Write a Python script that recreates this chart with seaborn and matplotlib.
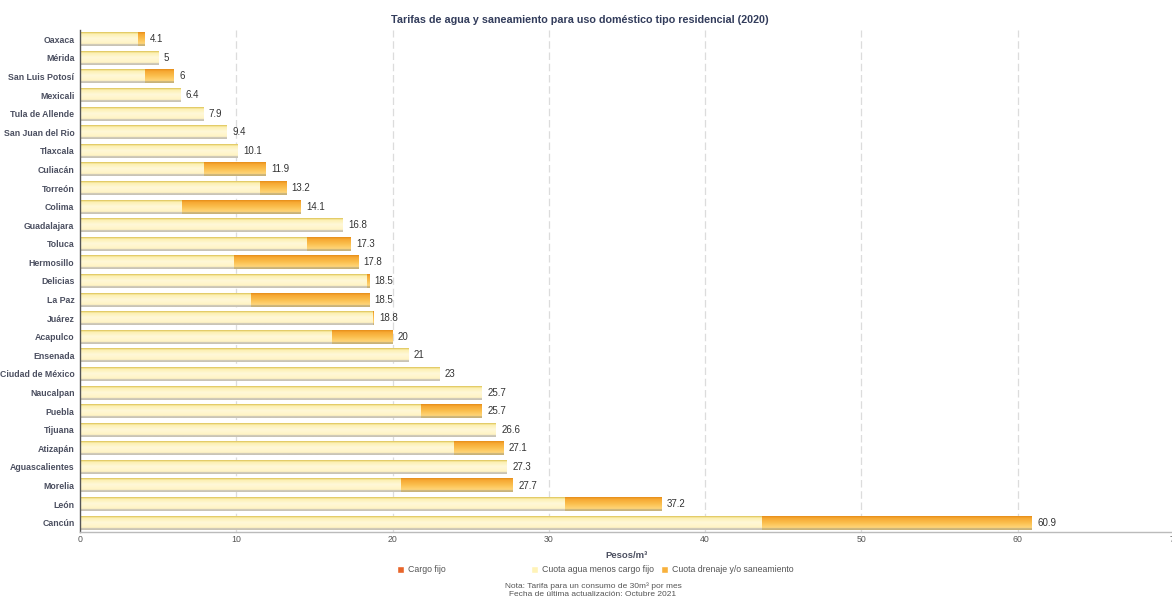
import numpy as np
import pandas as pd
import matplotlib
matplotlib.use("Agg")
import matplotlib.pyplot as plt
from matplotlib.colors import to_rgb
from matplotlib.patches import Patch
import seaborn as sns

ciudades = ["Oaxaca", "Mérida", "San Luis Potosí", "Mexicali", "Tula de Allende",
            "San Juan del Rio", "Tlaxcala", "Culiacán", "Torreón", "Colima",
            "Guadalajara", "Toluca", "Hermosillo", "Delicias", "La Paz", "Juárez",
            "Acapulco", "Ensenada", "Ciudad de México", "Naucalpan", "Puebla",
            "Tijuana", "Atizapán", "Aguascalientes", "Morelia", "León", "Cancún"]
cargo_fijo = [0.0] * 27
cuota_agua = [3.7, 5.0, 4.1, 6.4, 7.9, 9.4, 10.1, 7.9, 11.5, 6.5,
              16.8, 14.5, 9.8, 18.3, 10.9, 18.7, 16.1, 21.0, 23.0, 25.7,
              21.8, 26.6, 23.9, 27.3, 20.5, 31.0, 43.6]
tarifa_total = [4.1, 5.0, 6.0, 6.4, 7.9, 9.4, 10.1, 11.9, 13.2, 14.1,
                16.8, 17.3, 17.8, 18.5, 18.5, 18.8, 20.0, 21.0, 23.0, 25.7,
                25.7, 26.6, 27.1, 27.3, 27.7, 37.2, 60.9]
cuota_drenaje = [round(t - c - a, 1) for t, c, a in zip(tarifa_total, cargo_fijo, cuota_agua)]

df = pd.DataFrame({"ciudad": ciudades, "cargo": cargo_fijo,
                   "agua": cuota_agua, "drenaje": cuota_drenaje})
df["hasta_agua"] = df["cargo"] + df["agua"]
df["total"] = df["hasta_agua"] + df["drenaje"]

sns.set_theme(style="white")
plt.rcParams["font.family"] = ["Liberation Sans", "DejaVu Sans"]

fig = plt.figure(figsize=(11.72, 5.98), dpi=100)
ax = fig.add_axes([80 / 1172, 1 - 532 / 598, (1174 - 80) / 1172, (532 - 30) / 598])

BAR_H = 0.75
c_dren = "#f8b13c"
c_agua = "#fff3b8"
c_cargo = "#e8652a"

# stacked bars: full tariff underneath, water share on top, fixed charge first
sns.barplot(data=df, x="total", y="ciudad", color=c_dren, width=BAR_H,
            saturation=1, ax=ax, orient="h")
n_dren = len(ax.patches)
sns.barplot(data=df, x="hasta_agua", y="ciudad", color=c_agua, width=BAR_H,
            saturation=1, ax=ax, orient="h")
n_agua = len(ax.patches)
sns.barplot(data=df, x="cargo", y="ciudad", color=c_cargo, width=BAR_H,
            saturation=1, ax=ax, orient="h")


def ramp(stops, n=60):
    pos = [p for p, _ in stops]
    cols = np.array([to_rgb(c) for _, c in stops])
    t = np.linspace(0, 1, n)
    return np.stack([np.interp(t, pos, cols[:, k]) for k in range(3)], axis=1)


grad_dren = ramp([(0, "#e8921e"), (0.07, "#e8921e"), (0.1, "#f6a52e"),
                  (0.5, "#fbc050"), (0.85, "#ffd77c"), (0.88, "#c8b27a"),
                  (1.0, "#c8b27a")])
grad_agua = ramp([(0, "#e3cc68"), (0.07, "#e3cc68"), (0.1, "#fcefad"),
                  (0.45, "#fff8d8"), (0.85, "#fff3c2"), (0.88, "#c9c4b6"),
                  (1.0, "#c9c4b6")])
grad_cargo = ramp([(0, "#d9501c"), (0.1, "#e8652a"), (0.85, "#f79a4c"),
                   (0.88, "#c8b27a"), (1.0, "#c8b27a")])

for i, patch in enumerate(ax.patches):
    x0, y0 = patch.get_x(), patch.get_y()
    w, h = patch.get_width(), patch.get_height()
    if w <= 0:
        continue
    g = grad_dren if i < n_dren else (grad_agua if i < n_agua else grad_cargo)
    patch.set_visible(False)
    ax.imshow(g[:, None, :], extent=(x0, x0 + w, y0 + h, y0), origin="upper",
              aspect="auto", interpolation="bilinear", zorder=2)

# value labels
for yi, tot in enumerate(df["total"]):
    ax.text(tot + 0.35, yi, f"{tot:g}", va="center", ha="left",
            fontsize=7, color="#333333", zorder=4)

ax.set_xlim(0, 70)
ax.set_ylim(len(df) - 0.5, -0.5)
ax.set_xticks(range(0, 71, 10))
ax.tick_params(axis="x", labelsize=6.3, labelcolor="#555555", length=0, pad=2)
ax.tick_params(axis="y", labelsize=6.3, labelcolor="#4b4f60", length=0, pad=4)
for lab in ax.get_yticklabels():
    lab.set_fontweight("bold")
for x in range(10, 71, 10):
    ax.axvline(x, color="#dcdcdc", lw=0.9, ls=(0, (6, 3)), zorder=0)

for s in ["top", "right"]:
    ax.spines[s].set_visible(False)
ax.spines["left"].set_color("#555555")
ax.spines["left"].set_linewidth(1.0)
ax.spines["bottom"].set_color("#bbbbbb")
ax.spines["bottom"].set_linewidth(1.0)

ax.set_ylabel("")
ax.set_xlabel("Pesos/m³", fontsize=6.8, fontweight="bold", color="#4b4f60", labelpad=5)

fig.text(580 / 1172, 1 - 20 / 598,
         "Tarifas de agua y saneamiento para uso doméstico tipo residencial (2020)",
         ha="center", va="center", fontsize=7.75, fontweight="bold", color="#333d5c")

leg_kw = dict(frameon=False, fontsize=6.3, handlelength=0.8, handleheight=0.8,
              handletextpad=0.5, labelcolor="#555555", borderaxespad=0)
leg1 = fig.legend(handles=[Patch(facecolor=c_cargo, label="Cargo fijo")],
                  loc="center left", bbox_to_anchor=(393 / 1172, 1 - 570 / 598), **leg_kw)
leg2 = fig.legend(handles=[Patch(facecolor=c_agua, label="Cuota agua menos cargo fijo"),
                           Patch(facecolor=c_dren, label="Cuota drenaje y/o saneamiento")],
                  loc="center left", bbox_to_anchor=(527 / 1172, 1 - 570 / 598),
                  ncol=2, columnspacing=0.8, **leg_kw)

fig.text(593 / 1172, 1 - 586 / 598, "Nota: Tarifa para un consumo de 30m³ por mes",
         ha="center", va="center", fontsize=6, color="#555555")
fig.text(593 / 1172, 1 - 594.5 / 598, "Fecha de última actualización: Octubre 2021",
         ha="center", va="center", fontsize=6, color="#555555")

fig.savefig("out.png", dpi=100)
